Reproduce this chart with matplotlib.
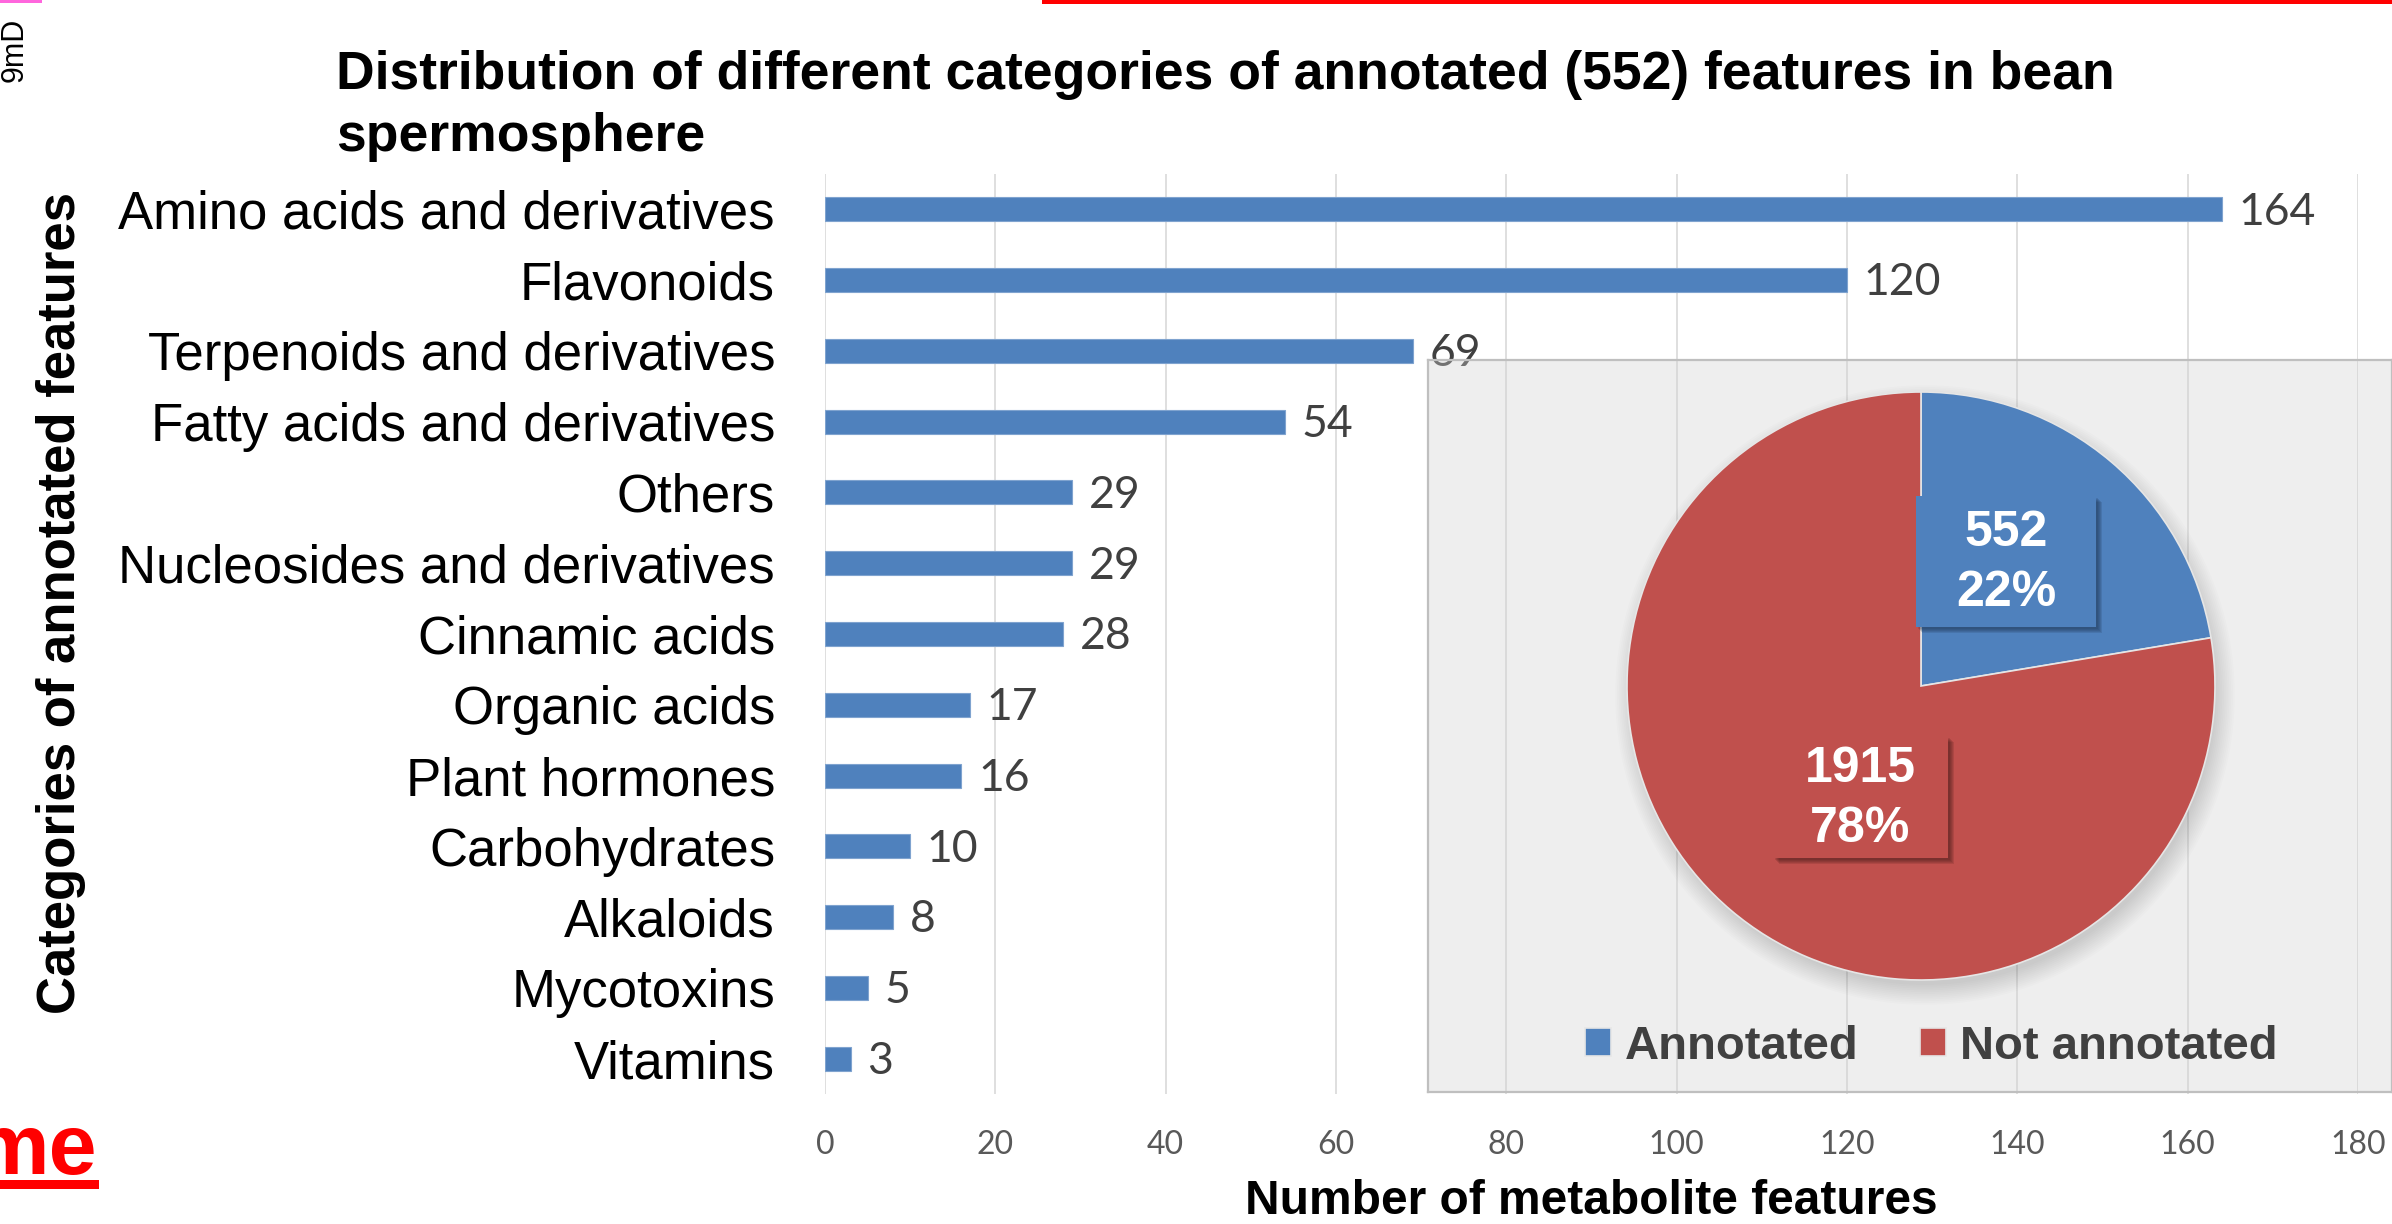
import numpy as np
import matplotlib
matplotlib.use("Agg")
import matplotlib.pyplot as plt
from matplotlib.patches import Rectangle, Circle

plt.rcParams['font.family'] = ['Liberation Sans', 'DejaVu Sans']

# bar data: categories of annotated features (top to bottom)
categories = ['Amino acids and derivatives', 'Flavonoids', 'Terpenoids and derivatives',
              'Fatty acids and derivatives', 'Others', 'Nucleosides and derivatives',
              'Cinnamic acids', 'Organic acids', 'Plant hormones', 'Carbohydrates',
              'Alkaloids', 'Mycotoxins', 'Vitamins']
counts = [164, 120, 69, 54, 29, 29, 28, 17, 16, 10, 8, 5, 3]
x_ticks = [0, 20, 40, 60, 80, 100, 120, 140, 160, 180]

# pie data: annotated vs not annotated features
pie_labels = ['Annotated', 'Not annotated']
pie_values = [552, 1915]

blue = '#4f81bd'
red = '#c0504d'

W, H = 2392, 1224
fig = plt.figure(figsize=(W / 100, H / 100), dpi=100)

def fx(px):
    return px / W

def fy(py):
    return 1 - py / H

# ---- horizontal bar chart ----
ax = fig.add_axes([fx(825), fy(1094), fx(2358) - fx(825), fy(174) - fy(1094)])
y = np.arange(len(categories))
ax.barh(y, counts, height=0.34, color=blue, edgecolor='#7fa3cf', linewidth=0.8, zorder=3)
for yi, v in zip(y, counts):
    ax.annotate(str(v), (v, yi), xytext=(12, -2), textcoords='offset points',
                ha='left', va='center', fontsize=32, color='#404040', family='Lato', zorder=4)
ax.set_ylim(len(categories) - 0.5, -0.5)
ax.set_yticks(y)
ax.set_yticklabels(categories, fontsize=38)
ax.set_xlim(0, 180)
ax.set_xticks(x_ticks)
ax.set_xticklabels([str(t) for t in x_ticks], fontsize=23, color='#595959', family='Lato')
ax.tick_params(axis='both', length=0)
ax.tick_params(axis='y', pad=36)
ax.tick_params(axis='x', pad=26)
ax.grid(axis='x', color='#d9d9d9', linewidth=1.2, zorder=0)
ax.set_axisbelow(True)
for s in ax.spines.values():
    s.set_visible(False)

fig.text(fx(336), fy(50), 'Distribution of different categories of annotated (552) features in bean\nspermosphere',
         fontsize=38.5, fontweight='bold', ha='left', va='top', linespacing=1.3)
fig.text(fx(61), fy(603), 'Categories of annotated features', rotation=90,
         fontsize=38, fontweight='bold', ha='center', va='center')
fig.text(fx(1591), fy(1202), 'Number of metabolite features',
         fontsize=34.5, fontweight='bold', ha='center', va='center')

# ---- inset pie chart on grey panel ----
bx0, by0, bx1, by1 = 1428, 360, 2392, 1092
ax_in = fig.add_axes([fx(bx0), fy(by1), fx(bx1) - fx(bx0), fy(by0) - fy(by1)])
ax_in.set_facecolor((0.82, 0.82, 0.82, 0.35))
for s in ax_in.spines.values():
    s.set_color('#bfbfbf')
    s.set_linewidth(1.6)

cx, cy, r = 493, 406, 294
# soft shadow under the pie
for i in range(12):
    ax_in.add_patch(Circle((cx + 4, cy - 9), r - 4 + i * 1.8, color='black', alpha=0.012,
                           lw=0, zorder=1))
wedges, _ = ax_in.pie(pie_values, colors=[blue, red], startangle=90, counterclock=False,
                      center=(cx, cy), radius=r, frame=True,
                      wedgeprops=dict(edgecolor='#e6e6e6', linewidth=1.2, zorder=2))
ax_in.set_xlim(0, bx1 - bx0)
ax_in.set_ylim(0, by1 - by0)
ax_in.set_xticks([])
ax_in.set_yticks([])

total = sum(pie_values)
label_boxes = [((578, 531), 180, 131, blue, '#1f3552'),
               ((432, 295), 175, 122, red, '#4a1c1b')]
for (bc, bw, bh, col, shade), v in zip(label_boxes, pie_values):
    x0, y0 = bc[0] - bw / 2, bc[1] - bh / 2
    # blurred drop shadow toward lower right
    for k in range(5):
        ax_in.add_patch(Rectangle((x0 + 2 + k, y0 - 2 - k), bw, bh, color=shade,
                                  alpha=0.16, lw=0, zorder=3))
    ax_in.add_patch(Rectangle((x0, y0), bw, bh, color=col, lw=0, zorder=4))
    ax_in.text(bc[0], bc[1] - 2, f'{v}\n{round(v / total * 100)}%', ha='center', va='center',
               fontsize=36, fontweight='bold', color='white', linespacing=1.38, zorder=5)

leg = ax_in.legend(wedges, pie_labels, loc='center', bbox_to_anchor=(0.522, 0.062), ncol=2,
                   frameon=False, handlelength=0.55, handleheight=0.55, handletextpad=0.3,
                   columnspacing=1.3, prop=dict(size=34, weight='bold'))
for t in leg.get_texts():
    t.set_color('#404040')

# ---- page fragments around the chart ----
fig.add_artist(Rectangle((fx(1042), fy(4)), 1 - fx(1042), fy(0) - fy(4),
                         transform=fig.transFigure, color='#ff0000', lw=0))
fig.add_artist(Rectangle((0, fy(3)), fx(42), fy(0) - fy(3),
                         transform=fig.transFigure, color='#ff66dd', lw=0))
fig.text(fx(15), fy(50), '9mD', rotation=90, fontsize=22, ha='center', va='center')
fig.text(fx(97), fy(1174), 'me', fontsize=62, fontweight='bold', color='#ff0000',
         ha='right', va='baseline')
fig.add_artist(Rectangle((0, fy(1189)), fx(99), fy(1180) - fy(1189),
                         transform=fig.transFigure, color='#ff0000', lw=0))

fig.savefig('out.png', dpi=100)
